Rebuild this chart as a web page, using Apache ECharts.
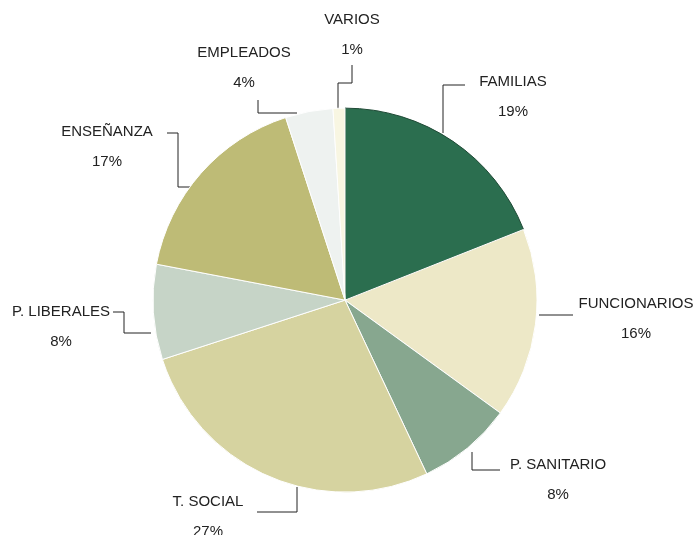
<!DOCTYPE html>
<html>
<head>
<meta charset="utf-8">
<script src="https://cdn.jsdelivr.net/npm/echarts@6/dist/echarts.min.js"></script>
<style>
  html, body { margin: 0; padding: 0; background: #fff; }
  #chart { width: 697px; height: 535px; }
</style>
</head>
<body>
<div id="chart"></div>
<script>
// sectores, en el sentido de las agujas del reloj desde arriba
var sectores = ['FAMILIAS', 'FUNCIONARIOS', 'P. SANITARIO', 'T. SOCIAL', 'P. LIBERALES', 'ENSEÑANZA', 'EMPLEADOS', 'VARIOS'];
var porcentajes = [19, 16, 8, 27, 8, 17, 4, 1];
var colores = ['#2b6e4f', '#ede8c7', '#87a78f', '#d6d3a0', '#c6d4c7', '#bebb76', '#eef2f0', '#f8f6e2'];

// posicion de cada etiqueta (centro del nombre) y su linea guia
var etiquetas = [
  { x: 513, y: 82,  line: [[443, 133], [443, 85], [465, 85]] },
  { x: 636, y: 304, line: [[539, 315], [573, 315]] },
  { x: 558, y: 465, line: [[472, 452], [472, 470], [500, 470]] },
  { x: 208, y: 502, line: [[297, 487], [297, 512], [257, 512]] },
  { x: 61,  y: 312, line: [[113, 312], [124, 312], [124, 333], [151, 333]] },
  { x: 107, y: 132, line: [[167, 133], [178, 133], [178, 187], [192, 187]] },
  { x: 244, y: 53,  line: [[258, 100], [258, 113], [297, 113]] },
  { x: 352, y: 20,  line: [[352, 65], [352, 83], [338, 83], [338, 109]] }
];

var myChart = echarts.init(document.getElementById('chart'));

var datos = [];
for (var i = 0; i < sectores.length; i++) {
  datos.push({
    name: sectores[i],
    value: porcentajes[i],
    itemStyle: {
      color: colores[i],
      borderColor: i === 0 ? '#1f4a36' : '#ffffff',
      borderWidth: 1
    }
  });
}

var option = {
  backgroundColor: '#ffffff',
  animation: false,
  series: [{
    type: 'pie',
    center: ['49.5%', '56.1%'],
    radius: 192,
    startAngle: 90,
    clockwise: true,
    avoidLabelOverlap: false,
    data: datos,
    label: {
      show: true,
      position: 'outside',
      formatter: '{n|{b}}\n{p|{c}%}',
      color: '#222',
      fontFamily: 'Liberation Sans',
      rich: {
        n: { fontSize: 15, lineHeight: 30, color: '#222', fontFamily: 'Liberation Sans' },
        p: { fontSize: 15, lineHeight: 30, color: '#222', fontFamily: 'Liberation Sans' }
      }
    },
    labelLine: {
      show: true,
      length: 10,
      length2: 10,
      lineStyle: { color: '#222', width: 1 }
    },
    labelLayout: function (params) {
      var e = etiquetas[params.dataIndex];
      return {
        x: e.x,
        y: e.y + 15,
        align: 'center',
        verticalAlign: 'middle',
        labelLinePoints: e.line
      };
    }
  }]
};

myChart.setOption(option);
</script>
</body>
</html>
